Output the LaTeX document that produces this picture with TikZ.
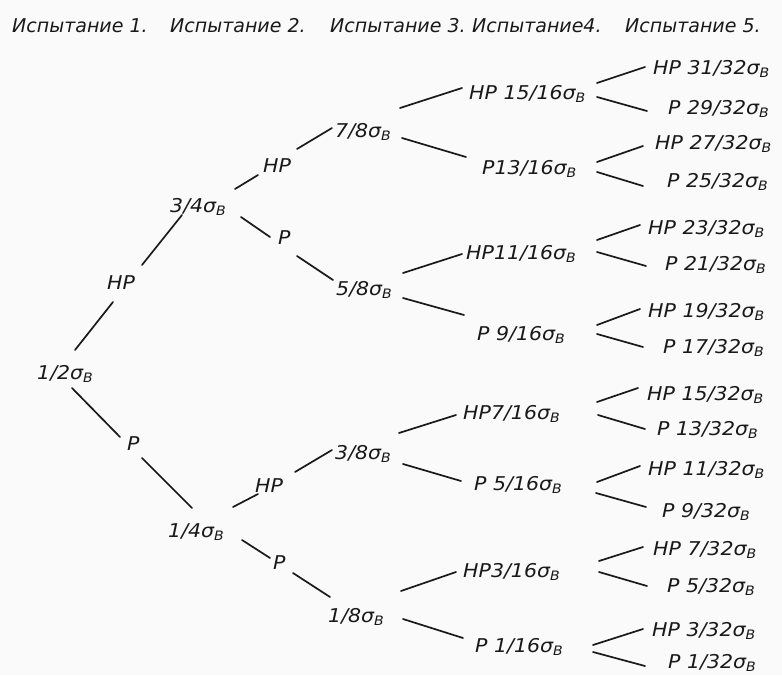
\documentclass[tikz,border=0pt]{standalone}
\usepackage{fontspec}
\setmainfont{DejaVu Sans}
\newfontfamily\lblfont{DejaVu Sans}[FakeStretch=1.08]
\usetikzlibrary{calc}
\newcommand\sB{\raisebox{-3.5pt}{\fontsize{13}{13}\selectfont В}}
\newcommand\lnk[4]{\draw[conn] ($(#1.base west)+(#2)$) -- ($(#3.base west)+(#4)$);}
\tikzset{
  txt/.style={anchor=base west, inner sep=0pt, font=\lblfont\itshape\fontsize{19}{19}\selectfont, text=black!90},
  hdr/.style={anchor=base west, inner sep=0pt, font=\itshape\fontsize{19}{19}\selectfont, text=black!90},
  conn/.style={line width=1.7pt, draw=black!90, line cap=round}
}
\begin{document}
\begin{tikzpicture}[x=1pt,y=-1pt]
\useasboundingbox (0,0) rectangle (782,675);
\fill[black!2] (0,0) rectangle (782,675);
% headers
\node[hdr] (h1) at (12,32) {Испытание 1.};
\node[hdr] (h2) at (170,32) {Испытание 2.};
\node[hdr] (h3) at (330,32) {Испытание 3.};
\node[hdr] (h4) at (472,32) {Испытание4.};
\node[hdr] (h5) at (625,32) {Испытание 5.};
% stage 1-2
\node[txt] (n12) at (37,379) {1/2σ\sB};
\node[txt] (l1a) at (107,289) {НР};
\node[txt] (l1b) at (127,450) {Р};
\node[txt] (n34) at (170,212) {3/4σ\sB};
\node[txt] (n14) at (168,537) {1/4σ\sB};
\node[txt] (l2a) at (263,172) {НР};
\node[txt] (l2b) at (278,244) {Р};
\node[txt] (l2c) at (255,492) {НР};
\node[txt] (l2d) at (273,569) {Р};
% stage 3
\node[txt] (n78) at (335,137) {7/8σ\sB};
\node[txt] (n58) at (336,295) {5/8σ\sB};
\node[txt] (n38) at (335,459) {3/8σ\sB};
\node[txt] (n18) at (328,622) {1/8σ\sB};
% stage 4
\node[txt] (a1) at (469,99) {НР 15/16σ\sB};
\node[txt] (a2) at (482,174) {Р13/16σ\sB};
\node[txt] (a3) at (466,259) {НР11/16σ\sB};
\node[txt] (a4) at (477,340) {Р 9/16σ\sB};
\node[txt] (a5) at (463,419) {НР7/16σ\sB};
\node[txt] (a6) at (474,490) {Р 5/16σ\sB};
\node[txt] (a7) at (463,577) {НР3/16σ\sB};
\node[txt] (a8) at (475,652) {Р 1/16σ\sB};
% stage 5
\node[txt] (b1) at (653,74) {НР 31/32σ\sB};
\node[txt] (b2) at (668,114) {Р 29/32σ\sB};
\node[txt] (b3) at (655,149) {НР 27/32σ\sB};
\node[txt] (b4) at (667,187) {Р 25/32σ\sB};
\node[txt] (b5) at (648,234) {НР 23/32σ\sB};
\node[txt] (b6) at (665,270) {Р 21/32σ\sB};
\node[txt] (b7) at (648,317) {НР 19/32σ\sB};
\node[txt] (b8) at (663,353) {Р 17/32σ\sB};
\node[txt] (b9) at (647,400) {НР 15/32σ\sB};
\node[txt] (b10) at (657,435) {Р 13/32σ\sB};
\node[txt] (b11) at (648,475) {НР 11/32σ\sB};
\node[txt] (b12) at (662,517) {Р 9/32σ\sB};
\node[txt] (b13) at (653,555) {НР 7/32σ\sB};
\node[txt] (b14) at (667,592) {Р 5/32σ\sB};
\node[txt] (b15) at (652,636) {НР 3/32σ\sB};
\node[txt] (b16) at (668,668) {Р 1/32σ\sB};
% connectors stage 1
\lnk{n12}{38,-29}{l1a}{6,13}
\lnk{l1a}{35,-24}{n34}{12,3}
\lnk{n12}{35,9}{l1b}{-7,-13}
\lnk{l1b}{15,8}{n14}{24,-29}
% stage 2
\lnk{n34}{65,-23}{l2a}{-5,3}
\lnk{l2a}{34,-23}{n78}{-3,-9}
\lnk{n34}{71,5}{l2b}{-8,-7}
\lnk{l2b}{19,12}{n58}{-3,-15}
\lnk{n14}{65,-30}{l2c}{3,2}
\lnk{l2c}{40,-20}{n38}{-3,-9}
\lnk{n14}{74,3}{l2d}{-3,-11}
\lnk{l2d}{20,4}{n18}{2,-25}
% stage 3 -> 4
\lnk{n78}{65,-29}{a1}{-7,-11}
\lnk{n78}{67,1}{a2}{-16,-17}
\lnk{n58}{67,-22}{a3}{-4,-5}
\lnk{n58}{67,3}{a4}{-13,-25}
\lnk{n38}{64,-26}{a5}{-7,-4}
\lnk{n38}{68,5}{a6}{-13,-9}
\lnk{n18}{73,-31}{a7}{-7,-5}
\lnk{n18}{75,-3}{a8}{-12,-14}
% stage 4 -> 5
\lnk{a1}{128,-16}{b1}{-8,-7}
\lnk{a1}{128,-2}{b2}{-21,-3}
\lnk{a2}{115,-12}{b3}{-12,-3}
\lnk{a2}{115,-2}{b4}{-24,-1}
\lnk{a3}{131,-19}{b5}{-8,-9}
\lnk{a3}{131,-7}{b6}{-19,-4}
\lnk{a4}{120,-15}{b7}{-8,-8}
\lnk{a4}{120,-6}{b8}{-20,-6}
\lnk{a5}{134,-17}{b9}{-9,-12}
\lnk{a5}{135,-4}{b10}{-12,-6}
\lnk{a6}{123,-8}{b11}{-8,-9}
\lnk{a6}{122,3}{b12}{-16,-10}
\lnk{a7}{136,-16}{b13}{-10,-8}
\lnk{a7}{136,-5}{b14}{-20,-6}
\lnk{a8}{118,-7}{b15}{-9,-7}
\lnk{a8}{118,0}{b16}{-23,-2}
\end{tikzpicture}
\end{document}
